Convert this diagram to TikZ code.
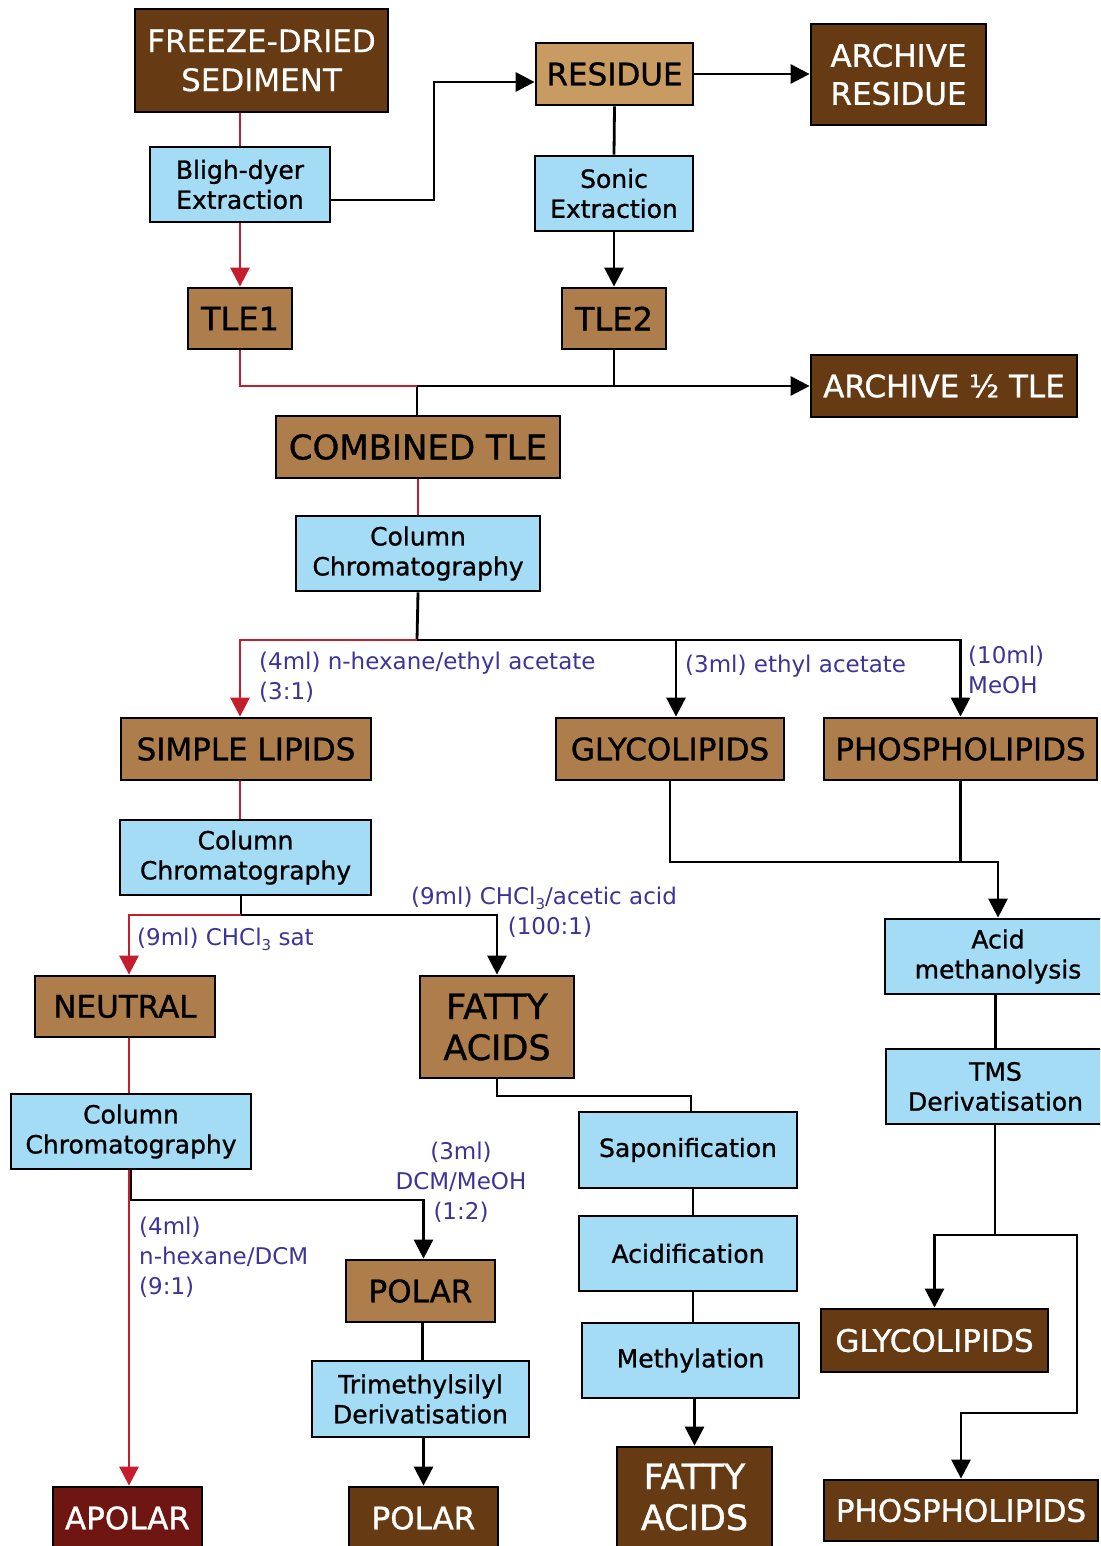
\documentclass[tikz,border=0pt]{standalone}
\usepackage{fontspec}
\setmainfont{DejaVu Sans}[FakeBold=1.0]
\newfontfamily\labfont{DejaVu Sans}
\newfontfamily\lightfont{DejaVu Sans}[FakeBold=0.3]
\usetikzlibrary{arrows.meta}
\definecolor{dbrown}{HTML}{663A12}
\definecolor{mbrown}{HTML}{AD7D4B}
\definecolor{tanbox}{HTML}{C89B62}
\definecolor{lblue}{HTML}{A4DBF5}
\definecolor{apred}{HTML}{701612}
\definecolor{redline}{HTML}{C41E2E}
\definecolor{labcol}{HTML}{3C3596}
\newcommand{\subthree}{\raisebox{-0.35ex}{\fontsize{15}{15}\selectfont 3}}
\begin{document}
\begin{tikzpicture}[x=1pt,y=-1pt,
  basebox/.style={draw=black, line width=2.8pt, inner sep=0pt, align=center},
  bluebox/.style={basebox, fill=lblue, font=\fontsize{25}{30}\selectfont},
  midbox/.style={basebox, fill=mbrown, font=\fontsize{31}{38}\selectfont},
  tbox/.style={basebox, fill=tanbox, font=\fontsize{31}{38}\selectfont},
  darkbox/.style={basebox, fill=dbrown, text=white, font=\fontsize{31}{38}\selectfont},
  redbox/.style={basebox, fill=apred, text=white, font=\fontsize{31}{38}\selectfont},
  lab/.style={text=labcol, font=\labfont\fontsize{23}{30}\selectfont, inner sep=0pt},
  bl/.style={draw=black, line width=2.8pt},
  rl/.style={draw=redline, line width=2.8pt},
  tip/.style={-{Triangle[length=19pt,width=19pt]}}
]
\useasboundingbox (0,0) rectangle (1100,1546);
\clip (0,0) rectangle (1100,1546);
\fill[white] (0,0) rectangle (1100,1546);

% nodes
\node[darkbox, minimum width=253pt, minimum height=103pt, font=\lightfont\fontsize{31}{39}\selectfont] (fds) at (261.5,60.5) {FREEZE-DRIED\\SEDIMENT};
\node[bluebox, minimum width=180pt, minimum height=75pt] (bligh) at (240,184.5) {Bligh-dyer\\Extraction};
\node[tbox, minimum width=157pt, minimum height=62pt] (res) at (614.5,74) {RESIDUE};
\node[darkbox, minimum width=175pt, minimum height=101pt] (ares) at (898.5,74.5) {ARCHIVE\\RESIDUE};
\node[bluebox, minimum width=158pt, minimum height=75pt] (sonic) at (614,193.5) {Sonic\\Extraction};
\node[midbox, minimum width=104pt, minimum height=61pt, font=\fontsize{32}{38}\selectfont] (tle1) at (240,318.5) {TLE1};
\node[midbox, minimum width=104pt, minimum height=61pt, font=\fontsize{32}{38}\selectfont] (tle2) at (614,318.5) {TLE2};
\node[darkbox, minimum width=266pt, minimum height=62pt] (atle) at (944,386) {ARCHIVE ½ TLE};
\node[midbox, minimum width=284pt, minimum height=62pt, font=\fontsize{34}{38}\selectfont] (comb) at (418,447) {COMBINED TLE};
\node[bluebox, minimum width=244pt, minimum height=75pt] (col1) at (418,553.5) {Column\\Chromatography};
\node[midbox, minimum width=250pt, minimum height=62pt] (simple) at (246,749) {SIMPLE LIPIDS};
\node[midbox, minimum width=228pt, minimum height=62pt] (glyco) at (670,749) {GLYCOLIPIDS};
\node[midbox, minimum width=273pt, minimum height=62pt] (phos) at (960.5,749) {PHOSPHOLIPIDS};
\node[bluebox, minimum width=251pt, minimum height=75pt] (col2) at (245.5,857.5) {Column\\Chromatography};
\node[midbox, minimum width=180pt, minimum height=61pt] (neutral) at (125,1006.5) {NEUTRAL};
\node[midbox, minimum width=154pt, minimum height=102pt, font=\fontsize{35}{41}\selectfont] (fa1) at (497,1027) {FATTY\\ACIDS};
\node[bluebox, minimum width=226pt, minimum height=75pt] (acidm) at (998,956.5) {Acid\\methanolysis};
\node[bluebox, minimum width=219pt, minimum height=75pt] (tms) at (995.5,1086.5) {TMS\\Derivatisation};
\node[bluebox, minimum width=240pt, minimum height=75pt] (col3) at (131,1131.5) {Column\\Chromatography};
\node[bluebox, minimum width=218pt, minimum height=76pt] (sapo) at (688,1150) {Saponification};
\node[bluebox, minimum width=218pt, minimum height=75pt] (acidf) at (688,1253.5) {Acidification};
\node[bluebox, minimum width=217pt, minimum height=75pt] (meth) at (690.5,1360.5) {Methylation};
\node[midbox, minimum width=149pt, minimum height=62pt] (polar1) at (420.5,1291) {POLAR};
\node[bluebox, minimum width=217pt, minimum height=76pt] (tmsil) at (420.5,1399) {Trimethylsilyl\\Derivatisation};
\node[darkbox, minimum width=227pt, minimum height=63pt] (glyco2) at (934.5,1340.5) {GLYCOLIPIDS};
\node[redbox, minimum width=149pt, minimum height=62pt] (apolar) at (127.5,1518) {APOLAR};
\node[darkbox, minimum width=149pt, minimum height=62pt] (polar2) at (423.5,1518) {POLAR};
\node[darkbox, minimum width=155pt, minimum height=100pt, font=\fontsize{35}{41}\selectfont] (fa2) at (694.5,1497) {FATTY\\ACIDS};
\node[darkbox, minimum width=274pt, minimum height=61pt] (phos2) at (961,1510.5) {PHOSPHOLIPIDS};

% labels
\node[lab, anchor=north west, align=left] (l1) at (259,652) {(4ml) n-hexane/ethyl acetate\\(3:1)};
\node[lab, anchor=north west, align=left] (l2) at (685,655) {(3ml) ethyl acetate};
\node[lab, anchor=north west, align=left] (l3) at (968,646) {(10ml)\\MeOH};
\node[lab, anchor=north west, align=left] (l4) at (137,928) {(9ml) CHCl\subthree{} sat};
\node[lab, anchor=north, align=center] (l5) at (544,887) {(9ml) CHCl\subthree/acetic acid\\\hspace*{12pt}(100:1)};
\node[lab, anchor=north west, align=left] (l6) at (139,1217) {(4ml)\\n-hexane/DCM\\(9:1)};
\node[lab, anchor=north, align=center] (l7) at (461,1142) {(3ml)\\DCM/MeOH\\(1:2)};

% junction coordinates
\coordinate (j1) at (417,386);
\coordinate (j2) at (417,640);
\coordinate (j3) at (241,915);
\coordinate (j4) at (961,862);
\coordinate (j5) at (995,1235);
\coordinate (j6) at (1077,1413);
\coordinate (j7) at (131,1200);
\coordinate (j8) at (691,1096);
\coordinate (j9) at (434,200);

% connectors
\draw[rl] (bligh.north |- fds.south) -- (bligh.north);
\draw[rl,tip] (bligh.south) -- (tle1.north);
\draw[bl,tip] (bligh.east |- j9) -- (j9) |- ([yshift=-8pt]res.west);
\draw[bl,tip] (res.east) -- (res.east -| ares.west);
\draw[bl] (res.south) -- (sonic.north);
\draw[bl,tip] (sonic.south) -- (tle2.north);
\draw[bl] (tle2.south) -- (tle2.south |- j1);
\draw[bl,tip] (j1) -- (j1 -| atle.west);
\draw[bl] (j1) -- (j1 |- comb.north);
\draw[rl] (tle1.south) |- (j1);
\draw[rl] (comb.south) -- (col1.north);
\draw[bl] (col1.south) -- (j2);
\draw[bl,tip] (j2) -| ([xshift=6pt]glyco.north);
\draw[bl,tip] (j2) -| (phos.north);
\draw[rl,tip] (j2) -| ([xshift=-6pt]simple.north);
\draw[rl] ([xshift=-6pt]simple.south) -- ([xshift=-6pt]simple.south |- col2.north);
\draw[bl] (j3 |- col2.south) -- (j3);
\draw[bl,tip] (j3) -| (fa1.north);
\draw[rl,tip] (j3) -| ([xshift=4pt]neutral.north);
\draw[bl] (glyco.south) |- (j4);
\draw[bl] (phos.south) -- (phos.south |- j4);
\draw[bl,tip] (j4) -| (acidm.north);
\draw[bl] (tms.north |- acidm.south) -- (tms.north);
\draw[bl] (j5 |- tms.south) -- (j5);
\draw[bl,tip] (j5) -| (glyco2.north);
\draw[bl,tip] (j5) -| (j6) -| (phos2.north);
\draw[rl] ([xshift=4pt]neutral.south) -- ([xshift=4pt]neutral.south |- col3.north);
\draw[bl,tip] (j7 |- col3.south) -- (j7) -| ([xshift=3pt]polar1.north);
\draw[rl,tip] ([xshift=-2pt]col3.south) -- ([xshift=-2pt]col3.south |- apolar.north);
\draw[bl] ([xshift=2pt]polar1.south) -- ([xshift=2pt]tmsil.north);
\draw[bl,tip] (polar2.north |- tmsil.south) -- (polar2.north);
\draw[bl] (fa1.south) |- (j8) -- (j8 |- sapo.north);
\draw[bl] ([xshift=5pt]sapo.south) -- ([xshift=5pt]acidf.north);
\draw[bl] ([xshift=5pt]acidf.south) -- ([xshift=2.5pt]meth.north);
\draw[bl,tip] (fa2.north |- meth.south) -- (fa2.north);
\end{tikzpicture}
\end{document}
